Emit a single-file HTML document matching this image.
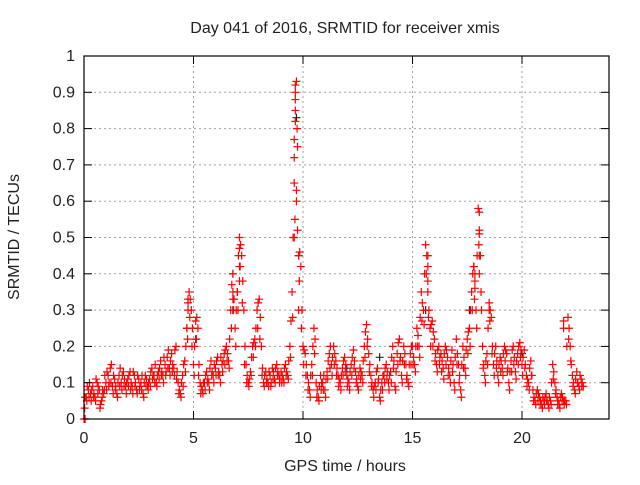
<!DOCTYPE html>
<html><head><meta charset="utf-8"><style>
body{margin:0;background:#fff;}
svg text{font-family:"Liberation Sans",sans-serif;font-size:16px;fill:#222;}
</style></head><body>
<svg id="chart" width="640" height="480">
<text x="345" y="33" text-anchor="middle">Day 041 of 2016, SRMTID for receiver xmis</text>
<text x="0" y="0" transform="translate(19,237) rotate(-90)" text-anchor="middle">SRMTID / TECUs</text>
<text x="345" y="471" text-anchor="middle">GPS time / hours</text>
<g id="grid"></g><g id="marks"></g>
<rect x="84" y="56" width="525" height="363" fill="none" stroke="#000" stroke-width="1.2"/>
<g id="ticks"></g>
</svg>
<script>
const xTicks=[0,5,10,15,20];
const yTicks=[0,0.1,0.2,0.3,0.4,0.5,0.6,0.7,0.8,0.9,1];
const yTickLabels=["0","0.1","0.2","0.3","0.4","0.5","0.6","0.7","0.8","0.9","1"];
const redValues=[0.0,0.06,0.08,0.07,0.09,0.06,0.1,0.08,0.05,0.07,
0.1,0.12,0.14,0.09,0.11,0.07,0.12,0.1,0.13,0.09,
0.11,0.13,0.09,0.12,0.08,0.11,0.1,0.07,0.12,0.09,
0.11,0.14,0.12,0.1,0.13,0.16,0.12,0.15,0.17,0.14,
0.18,0.14,0.2,0.1,0.07,0.12,0.16,0.25,0.35,0.3,
0.15,0.27,0.25,0.1,0.08,0.1,0.13,0.1,0.16,0.12,
0.14,0.17,0.12,0.15,0.18,0.2,0.16,0.3,0.4,0.25,
0.35,0.5,0.45,0.3,0.15,0.1,0.13,0.2,0.22,0.3,
0.33,0.2,0.1,0.13,0.1,0.12,0.14,0.11,0.15,0.12,
0.13,0.11,0.15,0.12,0.2,0.35,0.65,0.93,0.45,0.42,
0.2,0.18,0.12,0.08,0.15,0.25,0.1,0.06,0.12,0.1,
0.08,0.13,0.18,0.15,0.2,0.16,0.12,0.1,0.14,0.17,
0.12,0.1,0.15,0.19,0.13,0.09,0.14,0.12,0.2,0.26,
0.18,0.12,0.08,0.1,0.14,0.06,0.1,0.12,0.15,0.1,
0.13,0.2,0.09,0.18,0.22,0.12,0.2,0.15,0.1,0.18,
0.2,0.15,0.25,0.2,0.35,0.3,0.48,0.38,0.25,0.27,
0.22,0.15,0.2,0.18,0.14,0.2,0.17,0.12,0.19,0.1,
0.22,0.15,0.08,0.2,0.14,0.22,0.25,0.35,0.42,0.3,
0.58,0.45,0.2,0.12,0.18,0.32,0.28,0.15,0.2,0.12,
0.17,0.14,0.2,0.18,0.1,0.16,0.2,0.13,0.18,0.21,
0.15,0.19,0.12,0.1,0.16,0.08,0.05,0.08,0.06,0.04,
0.05,0.07,0.04,0.05,0.15,0.1,0.06,0.04,0.07,0.05,
0.05,0.28,0.2,0.12,0.08,0.13,0.09,0.11,0.09];
const midValues=[0.06,0.09,0.1,0.08,0.07,0.11,0.09,0.04,0.08,0.12,
0.13,0.1,0.15,0.12,0.09,0.1,0.14,0.12,0.11,0.1,
0.12,0.1,0.13,0.1,0.12,0.09,0.12,0.1,0.11,0.1,
0.13,0.12,0.15,0.12,0.14,0.13,0.17,0.13,0.19,0.16,
0.15,0.19,0.13,0.08,0.1,0.15,0.2,0.32,0.33,0.25,
0.2,0.28,0.15,0.09,0.1,0.12,0.11,0.14,0.13,0.15,
0.16,0.13,0.17,0.16,0.19,0.18,0.22,0.37,0.33,0.3,
0.45,0.48,0.38,0.2,0.12,0.11,0.17,0.21,0.25,0.32,
0.28,0.14,0.12,0.11,0.13,0.1,0.13,0.14,0.13,0.11,
0.12,0.14,0.13,0.16,0.27,0.5,0.85,0.75,0.46,0.3,
0.19,0.15,0.1,0.12,0.2,0.22,0.08,0.09,0.1,0.12,
0.11,0.16,0.2,0.17,0.18,0.14,0.11,0.12,0.16,0.15,
0.11,0.13,0.17,0.16,0.11,0.12,0.13,0.16,0.24,0.22,
0.15,0.1,0.09,0.13,0.11,0.08,0.12,0.14,0.13,0.12,
0.17,0.16,0.13,0.21,0.17,0.16,0.18,0.12,0.15,0.2,
0.17,0.2,0.23,0.28,0.32,0.4,0.45,0.3,0.26,0.24,
0.18,0.19,0.17,0.16,0.18,0.19,0.14,0.16,0.15,0.17,
0.18,0.12,0.15,0.17,0.19,0.24,0.3,0.4,0.36,0.45,
0.52,0.3,0.15,0.16,0.25,0.3,0.2,0.18,0.16,0.15,
0.16,0.18,0.19,0.14,0.13,0.19,0.17,0.16,0.2,0.19,
0.17,0.15,0.11,0.14,0.12,0.06,0.07,0.07,0.05,0.06,
0.06,0.05,0.06,0.1,0.13,0.08,0.05,0.06,0.06,0.05,
0.2,0.25,0.15,0.1,0.11,0.1,0.12,0.1];
const lowValues=[0.03,0.05,0.06,0.05,0.06,0.05,0.07,0.03,0.06,0.08,
0.08,0.09,0.1,0.07,0.08,0.06,0.09,0.08,0.09,0.07,
0.09,0.08,0.07,0.09,0.07,0.08,0.08,0.06,0.09,0.08,
0.09,0.11,0.1,0.09,0.11,0.12,0.1,0.12,0.14,0.12,
0.13,0.12,0.11,0.07,0.06,0.09,0.13,0.22,0.28,0.2,
0.12,0.22,0.12,0.07,0.07,0.08,0.1,0.08,0.12,0.1,
0.12,0.12,0.1,0.13,0.15,0.16,0.14,0.25,0.3,0.2,
0.3,0.42,0.32,0.15,0.1,0.09,0.12,0.17,0.2,0.25,
0.22,0.12,0.09,0.1,0.09,0.09,0.11,0.1,0.12,0.1,
0.1,0.1,0.12,0.11,0.17,0.28,0.55,0.8,0.38,0.25,
0.15,0.12,0.08,0.06,0.12,0.18,0.06,0.05,0.08,0.08,
0.06,0.11,0.14,0.12,0.15,0.12,0.09,0.08,0.12,0.13,
0.09,0.08,0.12,0.14,0.1,0.08,0.11,0.1,0.17,0.2,
0.13,0.09,0.06,0.08,0.1,0.05,0.08,0.1,0.11,0.08,
0.1,0.14,0.08,0.15,0.16,0.1,0.15,0.11,0.09,0.15,
0.15,0.13,0.2,0.17,0.27,0.26,0.4,0.28,0.2,0.2,
0.16,0.13,0.15,0.13,0.11,0.15,0.12,0.1,0.13,0.08,
0.15,0.1,0.06,0.14,0.12,0.18,0.2,0.3,0.33,0.25,
0.48,0.35,0.14,0.1,0.15,0.27,0.18,0.12,0.14,0.1,
0.13,0.12,0.16,0.13,0.08,0.13,0.15,0.11,0.15,0.17,
0.12,0.14,0.09,0.08,0.12,0.05,0.04,0.05,0.04,0.03,
0.04,0.05,0.03,0.04,0.11,0.07,0.04,0.03,0.05,0.04,
0.04,0.22,0.16,0.09,0.07,0.1,0.08,0.09];
const extraHours=[9.6,9.6,9.6,9.65,9.65,9.65,9.65,9.7,9.7,9.75,9.8,7.1,7.1,7.1,6.8,6.8,6.8,4.75,4.75,15.7,15.7,15.7,18.05,18.05,18.05,18.05,17.85,17.85,18.5,21.9,21.9,0.05];
const extraValues=[0.5,0.72,0.77,0.82,0.88,0.9,0.92,0.63,0.6,0.52,0.3,0.47,0.42,0.38,0.35,0.33,0.4,0.3,0.33,0.45,0.42,0.35,0.57,0.51,0.4,0.45,0.38,0.4,0.3,0.25,0.27,0.0];
const blackHours=[4.7,6.8,7.0,9.7,9.8,15.6,17.8,17.6,13.5,20.0,5.1,12.0];
const blackValues=[0.25,0.3,0.35,0.83,0.45,0.3,0.42,0.3,0.17,0.18,0.22,0.14];
const X=h=>84+h*21.9, Y=v=>419-v*363;
const NS="http://www.w3.org/2000/svg";
const grid=document.getElementById('grid'),marks=document.getElementById('marks'),ticks=document.getElementById('ticks');
function mk(tag,attrs,parent){const e=document.createElementNS(NS,tag);for(const k in attrs)e.setAttribute(k,attrs[k]);parent.appendChild(e);return e;}
yTicks.forEach((v,i)=>{
 if(i>0&&i<yTicks.length-1){const g=mk('line',{x1:84,x2:609,y1:Y(v),y2:Y(v),stroke:'#a0a0a0','stroke-dasharray':'2,3'},grid);
 
 }
 mk('line',{x1:84,x2:92,y1:Y(v),y2:Y(v),stroke:'#000'},ticks);
 mk('line',{x1:601,x2:609,y1:Y(v),y2:Y(v),stroke:'#000'},ticks);
 const t=mk('text',{x:75,y:Y(v)+5,'text-anchor':'end'},ticks);t.textContent=yTickLabels[i];
 
 
});
xTicks.forEach(h=>{
 if(h>0){const g=mk('line',{x1:X(h),x2:X(h),y1:56,y2:419,stroke:'#a0a0a0','stroke-dasharray':'2,3'},grid);
 
 }
 mk('line',{x1:X(h),x2:X(h),y1:411,y2:419,stroke:'#000'},ticks);
 mk('line',{x1:X(h),x2:X(h),y1:56,y2:64,stroke:'#000'},ticks);
 const t=mk('text',{x:X(h),y:443,'text-anchor':'middle'},ticks);t.textContent=h;
 
 
});
function plus(h,v,c,name){const x=X(h),y=Y(v);
 const p=mk('path',{d:`M${x-4},${y}h8M${x},${y-4}v8`,stroke:c,'stroke-width':1.2,fill:'none'},marks);
 
 }
blackValues.forEach((v,i)=>plus(blackHours[i],v,'#222','black-point'));
redValues.forEach((v,i)=>plus(i/10,v,'#f00','red-point'));
midValues.forEach((v,i)=>plus(i/10+0.05,v,'#f00','red-point'));
lowValues.forEach((v,i)=>plus(i/10+0.03,v,'#f00','red-point'));
extraValues.forEach((v,i)=>plus(extraHours[i],v,'#f00','red-point'));
</script>
</body></html>
